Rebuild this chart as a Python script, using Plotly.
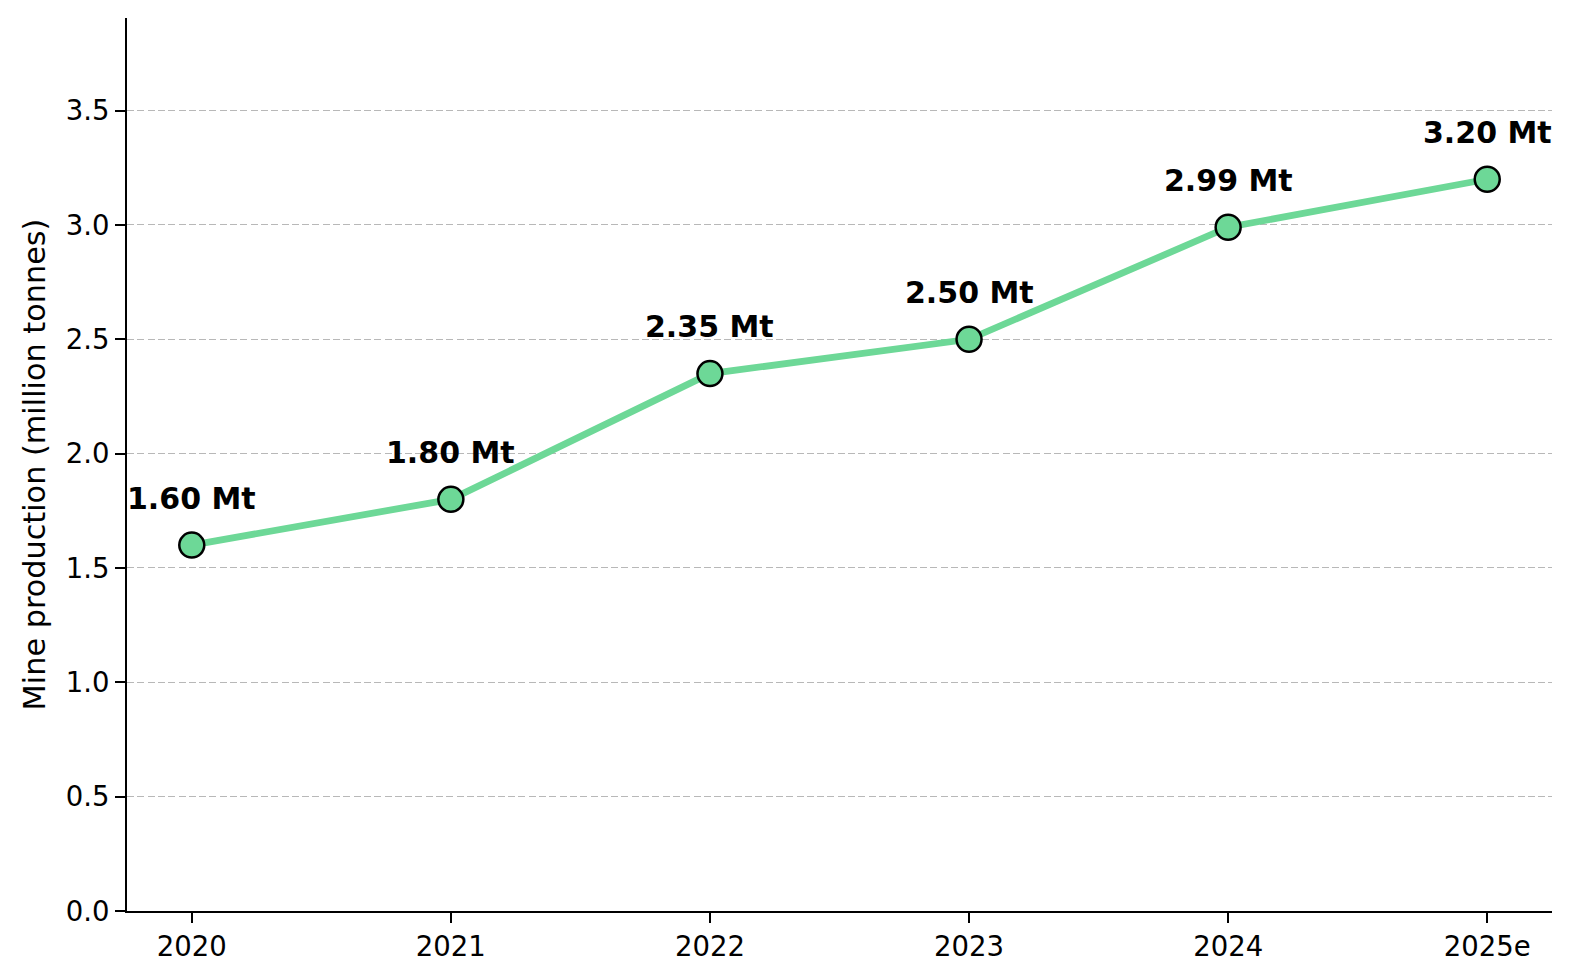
import plotly.graph_objects as go

years = ["2020", "2021", "2022", "2023", "2024", "2025e"]
production = [1.60, 1.80, 2.35, 2.50, 2.99, 3.20]
labels = [f"{v:.2f} Mt" for v in production]

green = "#6dd897"

fig = go.Figure()

fig.add_trace(go.Scatter(
    x=list(range(len(years))), y=production,
    mode="lines+markers",
    line=dict(color=green, width=6.8),
    marker=dict(size=25, color=green, line=dict(color="black", width=2.5)),
    showlegend=False,
    hoverinfo="skip",
))

# value labels above each point
for i, (v, t) in enumerate(zip(production, labels)):
    fig.add_annotation(x=i, y=v, text=f"<b>{t}</b>", showarrow=False,
                       yshift=47, font=dict(size=30, color="black"))

# page has an 8px body margin, so the figure is sized/margined to compensate
fig.update_layout(
    width=1559, height=964,
    margin=dict(l=119, r=15, t=10, b=61),
    plot_bgcolor="white", paper_bgcolor="white",
    font=dict(family="DejaVu Sans", size=27.5, color="black"),
)

fig.update_xaxes(
    range=[-0.25, 5.25],
    tickmode="array", tickvals=list(range(len(years))), ticktext=years,
    showline=True, linecolor="black", linewidth=2,
    ticks="outside", ticklen=10, tickwidth=2, tickcolor="black",
    showgrid=False, zeroline=False,
)

fig.update_yaxes(
    range=[0, 3.905],
    tickmode="array", tickvals=[0, 0.5, 1, 1.5, 2, 2.5, 3, 3.5],
    ticktext=["0.0", "0.5", "1.0", "1.5", "2.0", "2.5", "3.0", "3.5"],
    showline=True, linecolor="black", linewidth=2,
    ticks="outside", ticklen=10, tickwidth=2, tickcolor="black",
    showgrid=True, gridcolor="#b8b8b8", griddash="7px,3.3px", gridwidth=1.4,
    zeroline=False,
    title=dict(text="Mine production (million tonnes)", standoff=11,
               font=dict(size=30.3)),
)

fig.write_html("out.html")
